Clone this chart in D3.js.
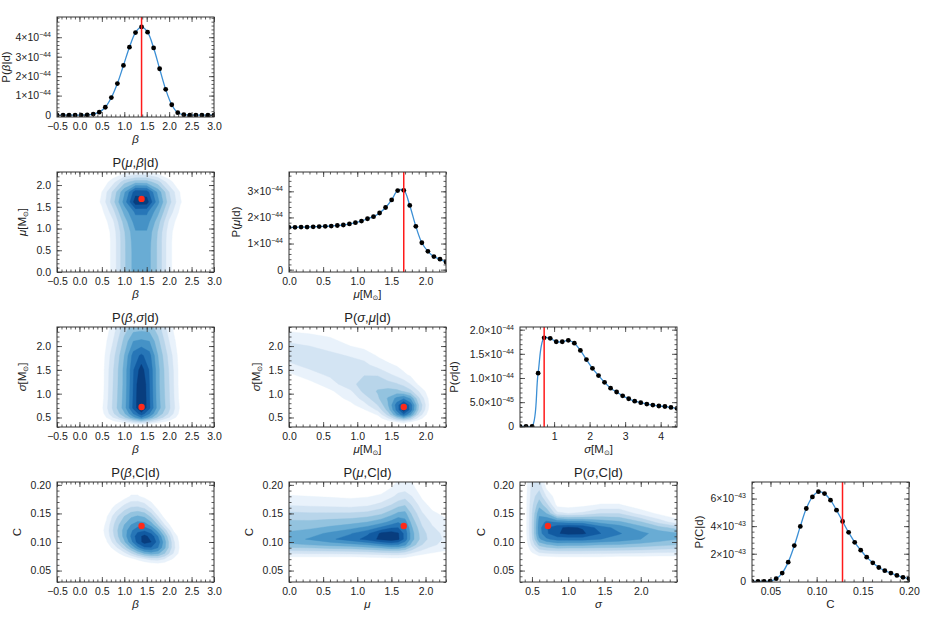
<!DOCTYPE html>
<html>
<head>
<meta charset="utf-8">
<script src="https://cdn.jsdelivr.net/npm/d3@7"></script>
<style>
  body { margin: 0; background: #fff; }
  text { font-family: "Liberation Sans", "DejaVu Sans", sans-serif; fill: #222; }
  .tick text { font-size: 10.5px; }
  .lab { font-size: 11.5px; }
  .ttl { font-size: 13px; }
</style>
</head>
<body>
<svg id="chart" width="926" height="618"></svg>
<script>
// ---------- marginal grids (27 samples across each axis) ----------
const betaGrid = [-0.5,-0.365,-0.231,-0.096,0.038,0.173,0.308,0.442,0.577,0.712,0.846,0.981,1.115,1.25,1.385,1.519,1.654,1.788,1.923,2.058,2.192,2.327,2.462,2.596,2.731,2.865,3.0];
const muGrid = [0,0.088,0.177,0.265,0.354,0.442,0.531,0.619,0.708,0.796,0.885,0.973,1.062,1.15,1.238,1.327,1.415,1.504,1.592,1.681,1.769,1.858,1.946,2.035,2.123,2.212,2.3];
const sigmaGrid = [0.04,0.21,0.38,0.55,0.72,0.89,1.06,1.23,1.40,1.57,1.74,1.91,2.08,2.25,2.42,2.59,2.76,2.93,3.10,3.27,3.44,3.61,3.78,3.95,4.12,4.29,4.46];
const cGrid = [0.03,0.0365,0.0431,0.0496,0.0562,0.0627,0.0692,0.0758,0.0823,0.0888,0.0954,0.1019,0.1085,0.115,0.1215,0.1281,0.1346,0.1412,0.1477,0.1542,0.1608,0.1673,0.1738,0.1804,0.1869,0.1935,0.2];

// marginal posteriors (units: 1e-44 for beta, mu, sigma; 1e-43 for C)
const betaPost = [0,0,0,0,0,0.01,0.05,0.15,0.4,0.9,1.62,2.55,3.49,4.24,4.53,4.26,3.45,2.38,1.32,0.53,0.12,0.02,0,0,0,0,0];
const muPost = [1.62,1.62,1.63,1.63,1.64,1.65,1.66,1.67,1.69,1.71,1.75,1.80,1.86,1.95,2.03,2.17,2.38,2.67,3.03,3.04,2.46,1.66,1.03,0.70,0.50,0.40,0.29];
const sigmaPost = [0,0,0,1.10,1.83,1.82,1.75,1.75,1.78,1.72,1.57,1.38,1.20,1.05,0.91,0.79,0.71,0.63,0.57,0.52,0.49,0.46,0.44,0.42,0.41,0.39,0.37];
const cPost = [0,0,0,0.02,0.19,0.6,1.39,2.59,3.98,5.28,6.12,6.5,6.36,5.88,5.16,4.34,3.55,2.83,2.26,1.75,1.34,1.0,0.77,0.6,0.43,0.29,0.19];

// best-fit values (red lines / red dots)
const bestBeta = 1.385, bestMu = 1.681, bestSigma = 0.72, bestC = 0.128;

// ---------- tick values / labels ----------
const betaTicks = [-0.5,0,0.5,1,1.5,2,2.5,3];
const muTicks = [0,0.5,1,1.5,2];
const sigmaTicks = [0.5,1,1.5,2];
const sigmaMargTicks = [1,2,3,4];
const cTicks = [0.05,0.10,0.15,0.20];
const pBetaTicks = [0,1,2,3,4];
const pBetaLabels = [['0',''],['1','−44'],['2','−44'],['3','−44'],['4','−44']];
const pMuTicks = [0,1,2,3];
const pMuLabels = [['0',''],['1','−44'],['2','−44'],['3','−44']];
const pSigmaTicks = [0,0.5,1,1.5,2];
const pSigmaLabels = [['0',''],['5.0','−45'],['1.0','−44'],['1.5','−44'],['2.0','−44']];
const pCTicks = [0,2,4,6];
const pCLabels = [['0',''],['2','−43'],['4','−43'],['6','−43']];

// ---------- 2D posteriors: contour level (0..9) ----------
// P(mu,beta|d): columns = beta samples, rows = mu samples (bottom to top)
const mbBeta = [-0.5,-0.25,0,0.25,0.5,0.75,1.0,1.25,1.5,1.75,2.0,2.25,2.5,2.75,3.0];
const mbMu = [0,0.23,0.46,0.69,0.92,1.15,1.38,1.61,1.84,2.07,2.3];
const mbLevels = [
  [0,0,0,0,0,1.3,3.8,5.6,5.6,3.8,1.3,0,0,0,0],
  [0,0,0,0,0,1.3,3.8,5.6,5.6,3.8,1.3,0,0,0,0],
  [0,0,0,0,0,1.3,3.8,5.6,5.6,3.8,1.3,0,0,0,0],
  [0,0,0,0,0,1.3,3.8,5.7,5.7,3.8,1.3,0,0,0,0],
  [0,0,0,0,0,1.4,3.9,5.9,5.9,3.9,1.4,0,0,0,0],
  [0,0,0,0,0.2,1.8,4.4,6.5,6.5,4.4,1.8,0.2,0,0,0],
  [0,0,0,0,0.7,2.6,5.3,7.2,7.2,5.3,2.6,0.7,0,0,0],
  [0,0,0,0,1.2,3.6,6.4,9.6,9.5,6.3,3.4,1.1,0,0,0],
  [0,0,0,0,1.0,3.2,5.8,8.6,8.5,5.7,3.0,0.9,0,0,0],
  [0,0,0,0,0.2,1.6,3.6,4.6,4.5,3.4,1.4,0.1,0,0,0],
  [0,0,0,0,0,0,0.5,0.9,0.9,0.4,0,0,0,0,0]
];

// P(beta,sigma|d): columns = beta, rows = sigma
const bsBeta = [-0.5,0.5,0.75,1.0,1.2,1.38,1.56,1.75,2.0,2.25,3.0];
const bsSigma = [0.3,0.36,0.42,0.5,0.58,0.7,0.9,1.2,1.5,1.8,2.1,2.4];
const bsLevels = [
  [0,0,0,0,0,0,0,0,0,0,0],
  [0,0,0,0.3,0.8,1.0,0.8,0.3,0,0,0],
  [0,0,0.8,1.8,2.9,3.7,2.9,1.8,0.8,0,0],
  [0,0.3,2.0,3.8,5.6,7.0,5.6,3.8,2.0,0.3,0],
  [0,0.6,2.8,4.8,7.0,8.6,7.0,4.8,2.8,0.6,0],
  [0,0.8,3.2,5.5,8.2,10.2,8.2,5.5,3.2,0.8,0],
  [0,0.6,3.1,5.4,8.1,10.3,8.1,5.4,3.1,0.6,0],
  [0,0.5,3.0,5.3,8.0,10.2,8.0,5.3,3.0,0.5,0],
  [0,0.5,2.9,5.3,7.9,9.5,7.9,5.3,2.9,0.5,0],
  [0,0.4,2.6,5.0,7.4,8.2,7.4,5.0,2.6,0.4,0],
  [0,0.2,2.0,4.3,6.0,6.2,6.0,4.3,2.0,0.2,0],
  [0,0,1.4,3.5,4.4,4.5,4.4,3.5,1.4,0,0]
];

// P(sigma,mu|d): columns = mu, rows = sigma
const smMu = [0,0.3,0.6,0.9,1.1,1.3,1.45,1.58,1.68,1.78,1.9,2.05,2.3];
const smSigma = [0.3,0.4,0.48,0.56,0.66,0.76,0.9,1.05,1.2,1.4,1.6,1.8,2.0,2.2,2.4];
const smLevels = [
  [0,0,0,0,0,0,0,0,0,0,0,0,0],
  [0,0,0,0,0,0,0.4,0.9,1.2,0.8,0.2,0,0],
  [0,0,0,0,0,0.4,1.8,3.6,4.6,3.5,1.5,0,0],
  [0,0,0,0,0.3,1.1,3.3,6.0,7.8,6.0,2.8,0.4,0],
  [0,0,0,0.2,0.9,2.2,4.4,7.3,9.6,7.6,3.8,0.8,0],
  [0,0,0,0.7,1.6,3.0,4.9,7.5,9.2,7.6,4.0,1.0,0],
  [0,0,0.4,1.3,2.4,3.8,5.1,6.3,6.9,5.9,3.2,0.8,0],
  [0,0.1,0.8,1.8,3.3,4.1,4.4,4.3,3.9,3.3,2.0,0.4,0],
  [0,0.6,1.5,2.7,3.4,3.6,3.4,3.1,2.7,2.0,0.8,0,0],
  [0.8,1.6,2.2,2.8,2.95,2.9,2.2,1.7,1.2,0.8,0.3,0,0],
  [1.8,2.3,2.5,2.6,2.3,1.6,1.2,0.9,0.6,0.3,0,0,0],
  [2.4,2.4,2.3,1.9,1.6,0.9,0.5,0.2,0,0,0,0,0],
  [2.3,2.0,1.6,1.0,0.7,0.3,0,0,0,0,0,0,0],
  [1.4,1.2,0.95,0.6,0.3,0,0,0,0,0,0,0,0],
  [0.6,0.5,0.3,0.1,0,0,0,0,0,0,0,0,0]
];

// P(beta,C|d): columns = beta, rows = C
const bcBeta = [-0.5,0.4,0.6,0.8,1.0,1.15,1.3,1.45,1.6,1.75,1.9,2.1,2.3,3.0];
const bcC = [0.03,0.06,0.07,0.08,0.09,0.1,0.11,0.12,0.13,0.145,0.16,0.18,0.205];
const bcLevels = [
  [0,0,0,0,0,0,0,0,0,0,0,0,0,0],
  [0,0,0,0,0,0,0,0,0.3,0.4,0.3,0,0,0],
  [0,0,0,0,0.2,0.6,1.2,1.8,2.3,2.4,1.9,0.8,0,0],
  [0,0,0,0.5,1.6,2.8,4.0,5.0,5.5,5.2,4.0,1.9,0.1,0],
  [0,0,0.2,1.6,3.4,5.0,6.6,7.8,7.9,7.0,5.2,2.3,0.2,0],
  [0,0,0.8,2.7,4.8,6.6,8.4,9.4,9.0,7.6,5.4,2.2,0.1,0],
  [0,0,1.2,3.3,5.4,7.1,8.6,9.3,8.6,7.0,4.8,1.7,0,0],
  [0,0,1.4,3.5,5.4,6.8,7.7,7.9,7.2,5.6,3.5,0.9,0,0],
  [0,0,1.2,3.3,5.0,6.0,6.6,6.5,5.6,3.9,2.0,0.2,0,0],
  [0,0,0.8,2.6,4.0,4.8,5.1,4.8,3.7,2.0,0.6,0,0,0],
  [0,0,0.3,1.3,2.5,3.1,3.2,2.8,1.8,0.7,0,0,0,0],
  [0,0,0,0,0.5,1.1,1.1,0.7,0.2,0,0,0,0,0],
  [0,0,0,0,0,0,0,0,0,0,0,0,0,0]
];

// P(mu,C|d): listed per mu column, each from low C to high C
const mcMu = [0,0.3,0.6,0.9,1.15,1.35,1.5,1.6,1.7,1.8,1.95,2.1,2.3];
const mcC = [0.03,0.065,0.075,0.085,0.095,0.105,0.115,0.125,0.135,0.15,0.165,0.18,0.195,0.205];
const mcColumns = [
  [0,0,1.1,3.0,4.8,5.6,5.2,4.6,4.2,3.2,1.9,1.1,0.3,0],
  [0,0,1.1,3.1,5.0,6.1,5.6,4.8,4.2,3.1,1.8,1.0,0.3,0],
  [0,0,1.1,3.2,5.3,6.8,6.2,5.2,4.4,3.1,1.7,0.9,0.2,0],
  [0,0,1.1,3.3,5.6,7.5,6.9,5.7,4.6,3.1,1.6,0.8,0.1,0],
  [0,0,1.2,3.5,6.0,8.4,7.8,6.3,5.0,3.3,1.8,0.9,0.2,0],
  [0,0,1.3,3.8,6.6,9.3,9.2,7.2,5.6,3.8,2.3,1.2,0.4,0],
  [0,0,1.4,4.0,7.0,9.6,9.5,7.9,6.3,4.6,3.0,1.8,1.0,0.6],
  [0,0,1.4,4.0,6.9,9.2,9.1,8.0,6.9,5.2,3.6,2.3,1.5,1.1],
  [0,0,1.3,3.6,6.2,7.6,7.6,7.2,6.4,5.3,3.9,2.6,1.5,1.2],
  [0,0,1.0,2.8,4.6,5.4,5.4,5.1,4.6,3.8,2.9,2.0,1.3,1.0],
  [0,0,0.6,1.9,3.0,3.5,3.4,3.1,2.7,2.1,1.4,0.8,0.3,0.1],
  [0,0,0.4,1.4,2.2,2.5,2.4,2.1,1.8,1.2,0.6,0.2,0,0],
  [0,0,0.2,1.0,1.6,1.8,1.7,1.5,1.2,0.7,0.2,0,0,0]
];

// P(sigma,C|d): listed per sigma column, each from low C to high C
const scSigma = [0.335,0.42,0.5,0.6,0.7,0.85,1.0,1.2,1.45,1.7,2.0,2.25,2.5];
const scC = [0.03,0.065,0.075,0.085,0.095,0.105,0.115,0.125,0.135,0.15,0.165,0.18,0.195,0.205];
const scColumns = [
  [0,0,0,0,0,0,0,0,0,0,0,0,0,0],
  [0,0,0,0.2,0.5,0.7,0.8,0.8,0.8,0.8,0.8,0.8,0.7,0.7],
  [0,0,0.4,1.3,2.2,2.8,3.0,3.0,3.0,2.9,2.7,2.5,2.3,2.2],
  [0,0,0.9,2.6,4.3,5.8,6.5,6.6,6.4,5.8,4.6,3.6,2.7,2.3],
  [0,0,1.0,2.9,4.8,6.8,7.8,7.9,7.2,5.0,3.3,1.9,0.8,0.4],
  [0,0,1.1,3.1,5.3,7.4,8.9,8.8,6.8,2.3,0.6,0.3,0.2,0.2],
  [0,0,1.1,3.1,5.2,7.4,9.3,9.2,6.5,2.0,0.5,0.1,0,0],
  [0,0,1.1,3.1,5.2,7.4,9.2,8.9,6.4,2.2,0.7,0.1,0,0],
  [0,0,1.1,3.0,5.0,7.0,8.0,7.5,5.6,3.0,1.1,0.2,0,0],
  [0,0,1.0,2.9,4.9,6.6,7.1,6.6,5.2,3.0,1.1,0.2,0,0],
  [0,0,1.0,2.8,4.6,6.0,6.3,5.4,4.1,1.6,0.3,0,0,0],
  [0,0,0.9,2.6,4.3,5.5,5.6,4.4,2.6,0.8,0.1,0,0,0],
  [0,0,0.9,2.5,4.0,5.0,5.1,3.6,1.4,0.3,0,0,0,0]
];

// ---------- layout ----------
const PW = 157, PH = 100;
const colX = [57, 289, 520, 752];
const rowY = [17, 172, 327, 482];
const levels = d3.range(1, 10);
const levelColor = k => d3.interpolateBlues(0.07 + (k - 1) * 0.11);

const fmt1 = d3.format('.1f'), fmt2 = d3.format('.2f');
const axBeta = { domain: [-0.5, 3.0], ticks: betaTicks, minor: 0.1, fmt: fmt1 };
const axMu = { domain: [0, 2.3], ticks: muTicks, minor: 0.1, fmt: fmt1 };
const axSigma = { domain: [0.3, 2.4], ticks: sigmaTicks, minor: 0.1, fmt: fmt1 };
const axSigmaC = { domain: [0.335, 2.5], ticks: sigmaTicks, minor: 0.1, fmt: fmt1 };
const axSigmaM = { domain: [0.04, 4.46], ticks: sigmaMargTicks, minor: 0.2, fmt: d3.format('d') };
const axC = { domain: [0.03, 0.205], ticks: cTicks, minor: 0.01, fmt: fmt2 };
const axCM = { domain: [0.03, 0.2], ticks: cTicks, minor: 0.01, fmt: fmt2 };
const axPBeta = { domain: [-0.1, 5.04], ticks: pBetaTicks, minor: 0.2, labels: pBetaLabels };
const axPMu = { domain: [-0.09, 3.74], ticks: pMuTicks, minor: 0.2, labels: pMuLabels };
const axPSigma = { domain: [-0.014, 2.055], ticks: pSigmaTicks, minor: 0.1, labels: pSigmaLabels };
const axPC = { domain: [-0.05, 7.2], ticks: pCTicks, minor: 0.4, labels: pCLabels };

const panels = [
  { r: 0, c: 0, kind: 'marg', xa: axBeta, ya: axPBeta, grid: betaGrid, post: betaPost, best: bestBeta, xl: 'β', yl: 'P(β|d)', yo: -47 },
  { r: 1, c: 0, kind: 'dens', xa: axBeta, ya: axMu, xs: mbBeta, ys: mbMu, z: mbLevels, best: [bestBeta, bestMu], xl: 'β', yl: 'μ[M⊙]', yo: -31, title: 'P(μ,β|d)' },
  { r: 1, c: 1, kind: 'marg', xa: axMu, ya: axPMu, grid: muGrid, post: muPost, best: bestMu, xl: 'μ[M⊙]', yl: 'P(μ|d)', yo: -49 },
  { r: 2, c: 0, kind: 'dens', xa: axBeta, ya: axSigma, xs: bsBeta, ys: bsSigma, z: bsLevels, best: [bestBeta, bestSigma], xl: 'β', yl: 'σ[M⊙]', yo: -31, title: 'P(β,σ|d)' },
  { r: 2, c: 1, kind: 'dens', xa: axMu, ya: axSigma, xs: smMu, ys: smSigma, z: smLevels, best: [bestMu, bestSigma], xl: 'μ[M⊙]', yl: 'σ[M⊙]', yo: -29, title: 'P(σ,μ|d)' },
  { r: 2, c: 2, kind: 'marg', xa: axSigmaM, ya: axPSigma, grid: sigmaGrid, post: sigmaPost, best: bestSigma, xl: 'σ[M⊙]', yl: 'P(σ|d)', yo: -62 },
  { r: 3, c: 0, kind: 'dens', xa: axBeta, ya: axC, xs: bcBeta, ys: bcC, z: bcLevels, best: [bestBeta, bestC], xl: 'β', yl: 'C', yo: -36, title: 'P(β,C|d)' },
  { r: 3, c: 1, kind: 'dens', xa: axMu, ya: axC, xs: mcMu, ys: mcC, z: d3.transpose(mcColumns), best: [bestMu, bestC], xl: 'μ', yl: 'C', yo: -36, title: 'P(μ,C|d)' },
  { r: 3, c: 2, kind: 'dens', xa: axSigmaC, ya: axC, xs: scSigma, ys: scC, z: d3.transpose(scColumns), best: [bestSigma, bestC], xl: 'σ', yl: 'C', yo: -35, title: 'P(σ,C|d)' },
  { r: 3, c: 3, kind: 'marg', xa: axCM, ya: axPC, grid: cGrid, post: cPost, best: bestC, xl: 'C', yl: 'P(C|d)', yo: -49 }
];

const svg = d3.select('#chart');
svg.append('defs').append('clipPath').attr('id', 'frame')
  .append('rect').attr('width', PW).attr('height', PH);

function minorTicks(domain, step) {
  const a = Math.ceil(domain[0] / step - 1e-6), b = Math.floor(domain[1] / step + 1e-6);
  return d3.range(a, b + 1).map(i => +(i * step).toFixed(6));
}

// label with italic greek and a small sun symbol
function setLabel(sel, str) {
  sel.text(null);
  let shift = 0;
  for (const ch of str) {
    const t = sel.append('tspan').text(ch);
    if (ch === '⊙') { t.attr('font-size', '0.6em').attr('dy', 2); shift = 2; }
    else if (shift) { t.attr('dy', -shift); shift = 0; }
    if (/[α-ω]/.test(ch)) t.attr('font-style', 'italic');
  }
}

function drawAxes(g, x, y, xa, ya) {
  const add = (axis, tx, ty) => g.append('g')
    .attr('transform', `translate(${tx},${ty})`)
    .attr('color', '#333')
    .call(axis)
    .call(a => a.select('.domain').remove());
  const mx = minorTicks(xa.domain, xa.minor), my = minorTicks(ya.domain, ya.minor);
  add(d3.axisBottom(x).tickValues(mx).tickSize(-2.5).tickFormat(''), 0, PH);
  add(d3.axisTop(x).tickValues(mx).tickSize(-2.5).tickFormat(''), 0, 0);
  add(d3.axisLeft(y).tickValues(my).tickSize(-2.5).tickFormat(''), 0, 0);
  add(d3.axisRight(y).tickValues(my).tickSize(-2.5).tickFormat(''), PW, 0);
  add(d3.axisBottom(x).tickValues(xa.ticks).tickSize(-5).tickPadding(6).tickFormat(xa.fmt), 0, PH);
  add(d3.axisTop(x).tickValues(xa.ticks).tickSize(-5).tickFormat(''), 0, 0);
  add(d3.axisRight(y).tickValues(ya.ticks).tickSize(-5).tickFormat(''), PW, 0);
  const ly = add(d3.axisLeft(y).tickValues(ya.ticks).tickSize(-5).tickPadding(6)
    .tickFormat(ya.fmt || (() => '')), 0, 0);
  if (ya.labels) {
    ly.selectAll('.tick text').each(function (d, i) {
      const [m, e] = ya.labels[i];
      const t = d3.select(this).text(e ? m + '×10' : m);
      if (e) t.append('tspan').attr('dy', -4).attr('font-size', '7px').text(e);
    });
  }
  g.selectAll('.tick line').attr('stroke-width', 0.8);
  g.append('rect').attr('width', PW).attr('height', PH)
    .attr('fill', 'none').attr('stroke', '#333').attr('stroke-width', 1);
}

function drawDensity(g, x, y, p) {
  const nx = p.xs.length, ny = p.ys.length;
  const gx = d3.scaleLinear().domain(d3.range(nx)).range(p.xs).clamp(true);
  const gy = d3.scaleLinear().domain(d3.range(ny)).range(p.ys).clamp(true);
  const proj = d3.geoTransform({
    point(px, py) { this.stream.point(x(gx(px - 0.5)), y(gy(py - 0.5))); }
  });
  const path = d3.geoPath(proj);
  const bands = d3.contours().size([nx, ny]).thresholds(levels)(p.z.flat());
  g.selectAll('path.band').data(bands).join('path')
    .attr('class', 'band')
    .attr('d', path)
    .attr('fill', b => levelColor(b.value))
    .attr('stroke', b => levelColor(b.value))
    .attr('stroke-width', 0.4);
  g.append('circle')
    .attr('cx', x(p.best[0])).attr('cy', y(p.best[1]))
    .attr('r', 3.2).attr('fill', '#ff2a1a');
}

function drawMarginal(g, x, y, p) {
  const pts = p.grid.map((v, i) => [v, p.post[i]]);
  g.append('path').datum(pts)
    .attr('d', d3.line().x(d => x(d[0])).y(d => y(d[1])).curve(d3.curveCatmullRom))
    .attr('fill', 'none').attr('stroke', '#3b8fd5').attr('stroke-width', 1.3);
  g.selectAll('circle.pt').data(pts).join('circle')
    .attr('class', 'pt')
    .attr('cx', d => x(d[0])).attr('cy', d => y(d[1]))
    .attr('r', 2.4).attr('fill', '#000');
  g.append('line')
    .attr('x1', x(p.best)).attr('x2', x(p.best))
    .attr('y1', 0).attr('y2', PH)
    .attr('stroke', '#ff1a1a').attr('stroke-width', 1.5);
}

panels.forEach(p => {
  const g = svg.append('g').attr('transform', `translate(${colX[p.c]},${rowY[p.r]})`);
  const x = d3.scaleLinear().domain(p.xa.domain).range([0, PW]);
  const y = d3.scaleLinear().domain(p.ya.domain).range([PH, 0]);
  const inner = g.append('g').attr('clip-path', 'url(#frame)');
  if (p.kind === 'dens') drawDensity(inner, x, y, p);
  else drawMarginal(inner, x, y, p);
  drawAxes(g, x, y, p.xa, p.ya);

  g.append('text').attr('class', 'lab').attr('text-anchor', 'middle')
    .attr('x', PW / 2).attr('y', PH + 26)
    .call(setLabel, p.xl);
  g.append('text').attr('class', 'lab').attr('text-anchor', 'middle')
    .attr('transform', `translate(${p.yo},${PH / 2}) rotate(-90)`)
    .call(setLabel, p.yl);
  if (p.title) {
    g.append('text').attr('class', 'ttl').attr('text-anchor', 'middle')
      .attr('x', PW / 2).attr('y', -5)
      .call(setLabel, p.title);
  }
});
</script>
</body>
</html>
